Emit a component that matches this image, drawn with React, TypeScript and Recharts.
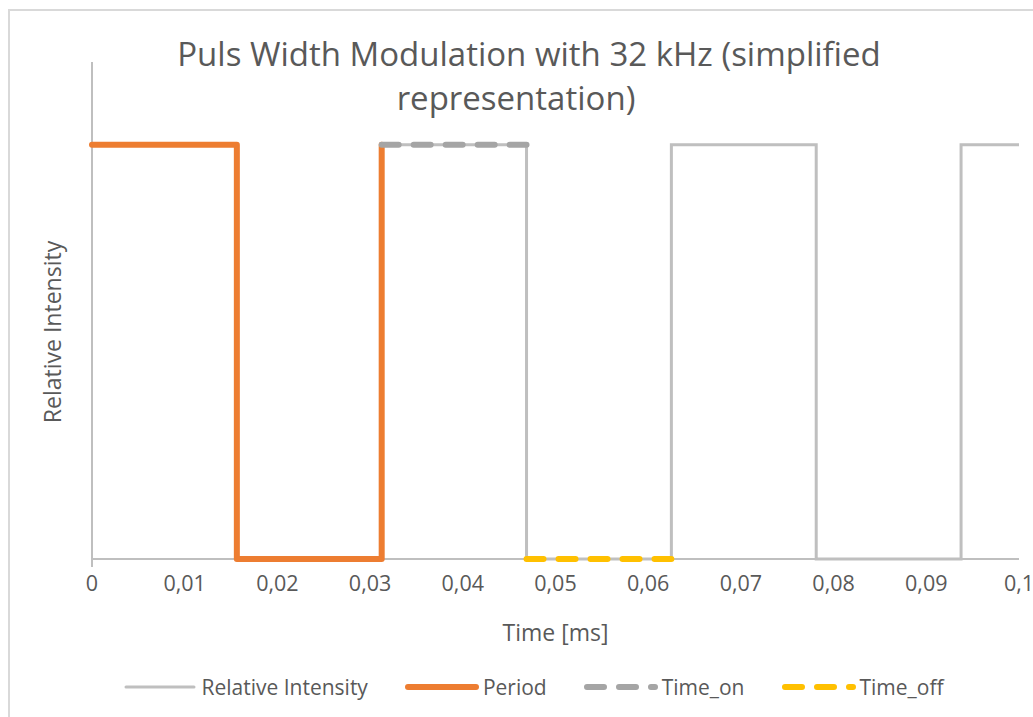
import React from "react";
import { LineChart, Line, XAxis, YAxis } from "recharts";

// x positions in ms, 32 kHz -> period 0.03125 ms
const xTicks = [0, 0.01, 0.02, 0.03, 0.04, 0.05, 0.06, 0.07, 0.08, 0.09, 0.1];

const intensityTime = [0, 0.015625, 0.015625, 0.03125, 0.03125, 0.046875, 0.046875, 0.0625, 0.0625, 0.078125, 0.078125, 0.09375, 0.09375, 0.1];
const intensityValue = [1, 1, 0, 0, 1, 1, 0, 0, 1, 1, 0, 0, 1, 1];

const periodTime = [0, 0.015625, 0.015625, 0.03125, 0.03125];
const periodValue = [1, 1, 0, 0, 1];

const onTime = [0.03125, 0.046875];
const onValue = [1, 1];

const offTime = [0.046875, 0.0625];
const offValue = [0, 0];

const W = 1033;
const H = 717;
const FONT = "'Open Sans', 'Noto Sans', sans-serif";
const TEXT = "#595959";
const AXIS = "#BFBFBF";

const toPoints = (xs: number[], ys: number[]) => xs.map((x, i) => ({ x, y: ys[i] }));

const fmt = (v: number) => String(v).replace(".", ",");

function XTick(props: any) {
  const { x, y, payload } = props;
  return (
    <g>
      {payload.value === 0 ? <line x1={x} x2={x} y1={y - 8} y2={y} stroke={AXIS} strokeWidth={2} /> : null}
      <text x={x} y={y + 24} textAnchor="middle" fill={TEXT} fontSize={21.5} fontFamily={FONT}>
        {fmt(payload.value)}
      </text>
    </g>
  );
}

const legendItems = [
  { name: "Relative Intensity", color: "#BFBFBF", width: 3, dash: undefined as string | undefined },
  { name: "Period", color: "#ED7D31", width: 6, dash: undefined },
  { name: "Time_on", color: "#A5A5A5", width: 6, dash: "17 15" },
  { name: "Time_off", color: "#FFC000", width: 6, dash: "17 15" },
];

// series sit above the axis lines, as in the original
const lineProps: any = { type: "linear", dot: false, isAnimationActive: false, zIndex: 700 };

export default function App() {
  return (
    <div style={{ position: "fixed", left: 0, top: 0, width: W, height: H, background: "#fff", overflow: "hidden" }}>
      <div style={{ position: "absolute", left: 8, top: 9, width: W + 20, height: H + 20, border: "2px solid #D9D9D9" }} />
      <div style={{ position: "absolute", left: 0, top: 0 }}>
        <LineChart width={W} height={H} margin={{ top: 62, right: 14, bottom: 88, left: 0 }}>
          <XAxis
            dataKey="x"
            type="number"
            domain={[0, 0.1]}
            ticks={xTicks}
            height={70}
            stroke={AXIS}
            strokeWidth={2}
            tickLine={false}
            tickSize={8}
            tickMargin={0}
            tick={<XTick />}
            label={{
              content: ({ viewBox }: any) => (
                <text x={viewBox.x + viewBox.width / 2} y={641} textAnchor="middle" fill={TEXT} fontSize={23} fontFamily={FONT}>
                  Time [ms]
                </text>
              ),
            }}
          />
          <YAxis
            dataKey="y"
            type="number"
            domain={[0, 1.2]}
            width={92}
            tick={false}
            tickLine={false}
            stroke={AXIS}
            strokeWidth={2}
            label={{
              content: () => (
                <text x={61} y={332} transform="rotate(-90 61 332)" textAnchor="middle" fill={TEXT} fontSize={23} fontFamily={FONT}>
                  Relative Intensity
                </text>
              ),
            }}
          />
          <Line {...lineProps} data={toPoints(intensityTime, intensityValue)} dataKey="y" name="Relative Intensity" stroke="#BFBFBF" strokeWidth={3} />
          <Line {...lineProps} data={toPoints(periodTime, periodValue)} dataKey="y" name="Period" stroke="#ED7D31" strokeWidth={6} strokeLinejoin="round" strokeLinecap="round" />
          <Line {...lineProps} data={toPoints(onTime, onValue)} dataKey="y" name="Time_on" stroke="#A5A5A5" strokeWidth={6} strokeDasharray="17 15" strokeLinecap="round" />
          <Line {...lineProps} data={toPoints(offTime, offValue)} dataKey="y" name="Time_off" stroke="#FFC000" strokeWidth={6} strokeDasharray="17 15" strokeLinecap="round" />
        </LineChart>
      </div>
      <svg width={W} height={H} style={{ position: "absolute", left: 0, top: 0, pointerEvents: "none" }}>
        <text x={529} y={66} textAnchor="middle" fill={TEXT} fontSize={33} fontFamily={FONT}>
          Puls Width Modulation with 32 kHz (simplified
        </text>
        <text x={516} y={110} textAnchor="middle" fill={TEXT} fontSize={33} fontFamily={FONT}>
          representation)
        </text>
      </svg>
      <div
        style={{
          position: "absolute",
          left: 0,
          top: 673,
          width: 1066,
          display: "flex",
          justifyContent: "center",
          gap: 36,
          fontFamily: FONT,
          fontSize: 21,
          color: TEXT,
        }}
      >
        {legendItems.map((it) => (
          <div key={it.name} style={{ display: "flex", alignItems: "center", gap: 3 }}>
            <svg width={76} height={12}>
              <line x1={4} x2={72} y1={6} y2={6} stroke={it.color} strokeWidth={it.width} strokeLinecap="round" strokeDasharray={it.dash} />
            </svg>
            <span>{it.name}</span>
          </div>
        ))}
      </div>
    </div>
  );
}
